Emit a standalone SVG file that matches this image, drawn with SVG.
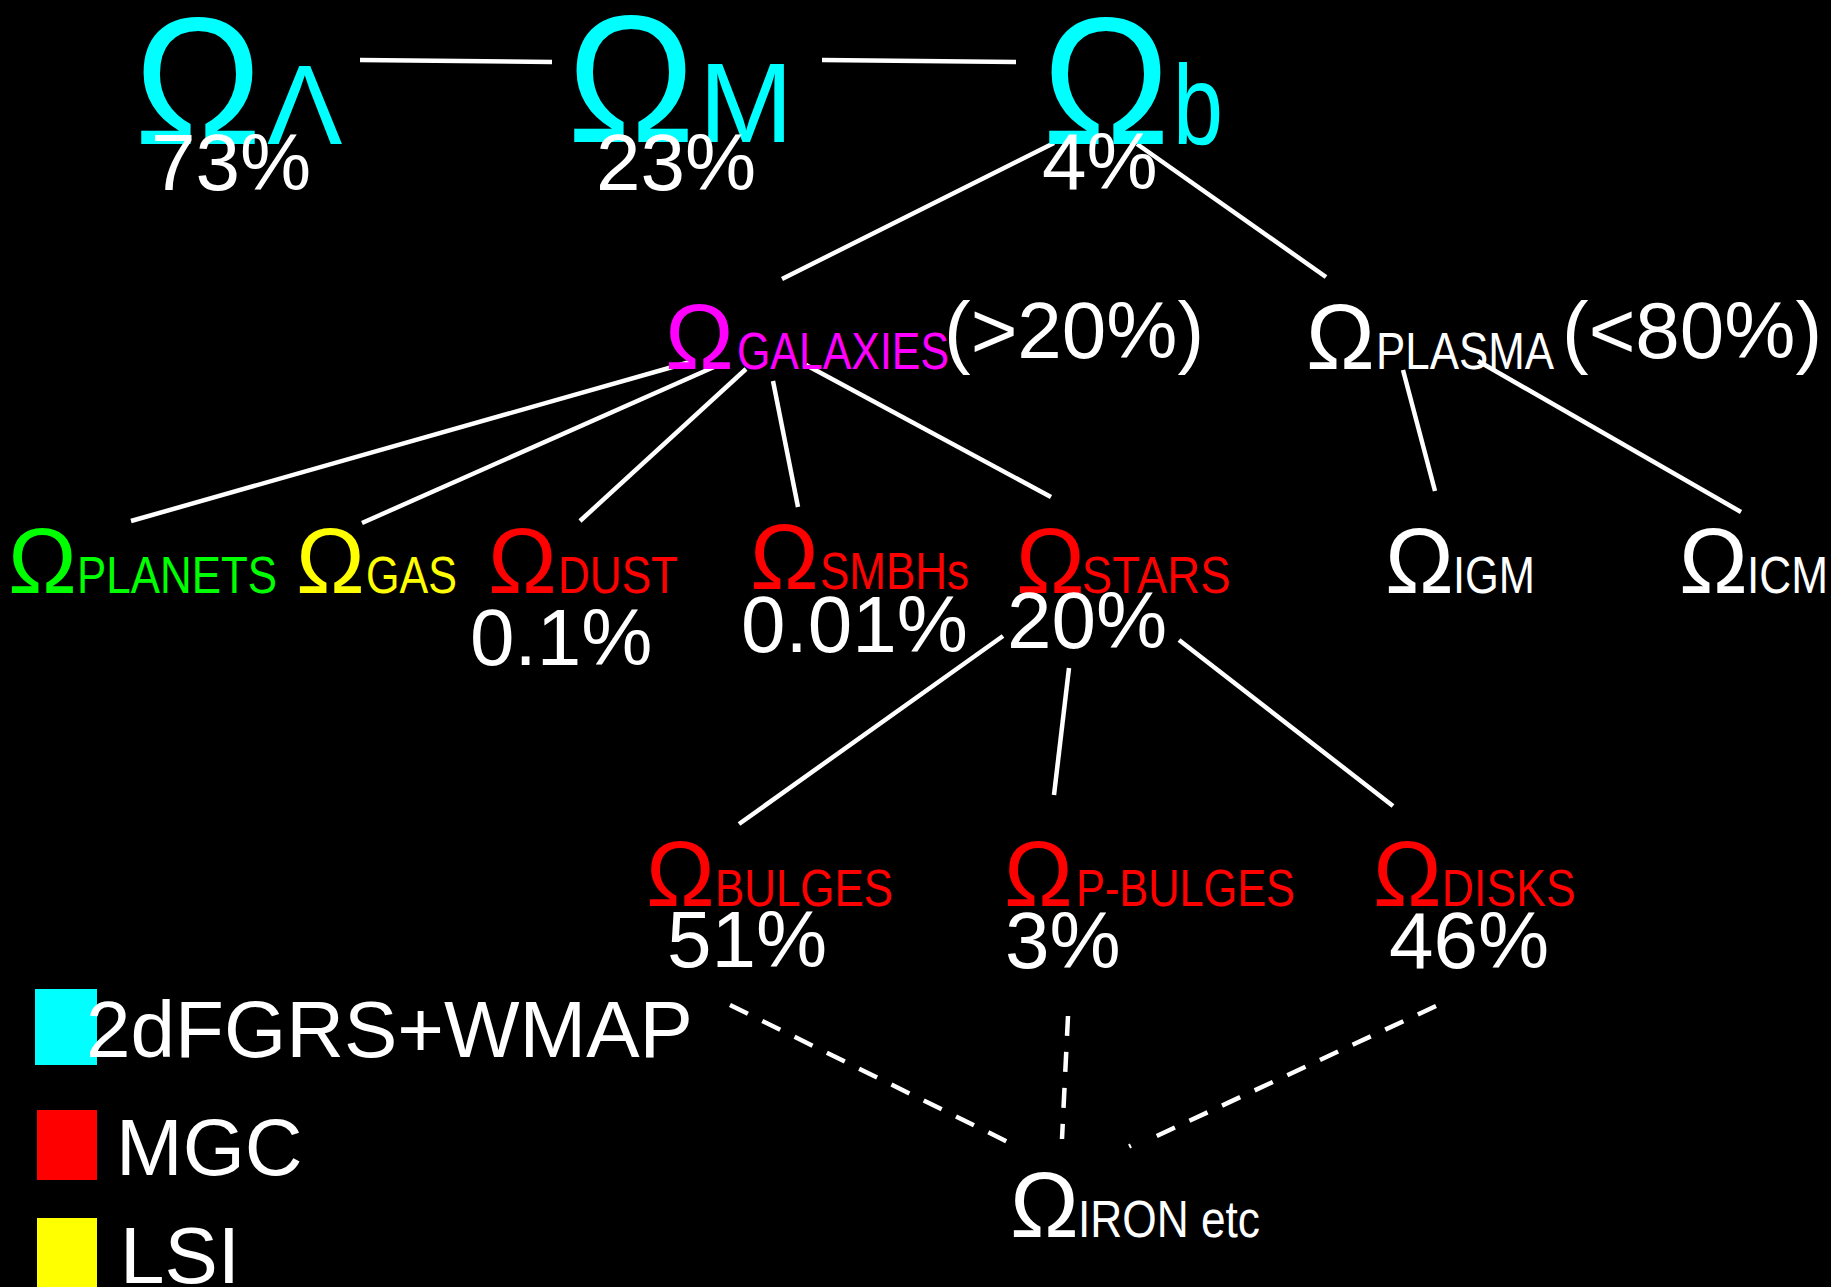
<svg xmlns="http://www.w3.org/2000/svg" width="1831" height="1287" viewBox="0 0 1831 1287">
  <style>
    text { font-family: "Liberation Sans", Arial, sans-serif; }
    .big { font-size: 181px; }
    .bsub { font-size: 113px; }
    .om { font-size: 92px; }
    .sub { font-size: 52px; }
    .pct { font-size: 80px; fill: #ffffff; }
    .cy { fill: #00ffff; }
    .mg { fill: #ff00ff; }
    .wh { fill: #ffffff; }
    .gr { fill: #00ff00; }
    .ye { fill: #ffff00; }
    .rd { fill: #ff0000; }
    .ln { stroke: #ffffff; stroke-width: 4.5; fill: none; }
    .dash { stroke-dasharray: 20 16; }
  </style>
  <rect width="1831" height="1287" fill="#000000"/>

  <!-- connectors -->
  <g id="connectors" class="ln">
    <line x1="360" y1="60" x2="552" y2="62"/>
    <line x1="822" y1="60" x2="1016" y2="62"/>
    <line x1="1054" y1="143" x2="782" y2="279"/>
    <line x1="1137" y1="144" x2="1326" y2="277"/>
    <line x1="690" y1="362" x2="131" y2="521"/>
    <line x1="714" y1="367" x2="362" y2="523"/>
    <line x1="746" y1="369" x2="580" y2="521"/>
    <line x1="773" y1="381" x2="798" y2="507"/>
    <line x1="806" y1="365" x2="1051" y2="497"/>
    <line x1="1403" y1="370" x2="1435" y2="491"/>
    <line x1="1478" y1="361" x2="1741" y2="512"/>
    <line x1="1003" y1="636" x2="739" y2="824"/>
    <line x1="1069" y1="668" x2="1054" y2="795"/>
    <line x1="1179" y1="640" x2="1393" y2="806"/>
    <line class="dash" x1="730" y1="1005" x2="1016" y2="1146"/>
    <line class="dash" x1="1068" y1="1016" x2="1062" y2="1139"/>
    <line class="dash" x1="1436" y1="1006" x2="1146" y2="1141"/>
    <line x1="1129" y1="1144" x2="1131" y2="1148" stroke-width="2"/>
  </g>

  <!-- cosmological densities -->
  <g id="omega-lambda">
    <text class="big cy" x="134" y="144" textLength="128" lengthAdjust="spacingAndGlyphs">Ω</text>
    <text class="bsub cy" x="267" y="144">Λ</text>
    <text class="pct" x="151" y="190">73%</text>
  </g>
  <g id="omega-m">
    <text class="big cy" x="567" y="142" textLength="128" lengthAdjust="spacingAndGlyphs">Ω</text>
    <text class="bsub cy" x="699" y="142">M</text>
    <text class="pct" x="596" y="190">23%</text>
  </g>
  <g id="omega-b">
    <text class="big cy" x="1042" y="144" textLength="128" lengthAdjust="spacingAndGlyphs">Ω</text>
    <text class="bsub cy" x="1173" y="144" font-size="108" textLength="50" lengthAdjust="spacingAndGlyphs">b</text>
    <text class="pct" x="1042" y="189">4%</text>
  </g>

  <!-- baryon split -->
  <g id="galaxies">
    <text class="om mg" x="665" y="369">Ω</text>
    <text class="sub mg" x="737" y="369" textLength="212" lengthAdjust="spacingAndGlyphs">GALAXIES</text>
    <text class="pct" x="944" y="358">(&gt;20%)</text>
  </g>
  <g id="plasma">
    <text class="om wh" x="1306" y="369">Ω</text>
    <text class="sub wh" x="1376" y="369" textLength="178" lengthAdjust="spacingAndGlyphs">PLASMA</text>
    <text class="pct" x="1562" y="358">(&lt;80%)</text>
  </g>

  <!-- galaxy components -->
  <g id="planets">
    <text class="om gr" x="8" y="593">Ω</text>
    <text class="sub gr" x="77" y="593" textLength="200" lengthAdjust="spacingAndGlyphs">PLANETS</text>
  </g>
  <g id="gas">
    <text class="om ye" x="296" y="593">Ω</text>
    <text class="sub ye" x="366" y="593" textLength="91" lengthAdjust="spacingAndGlyphs">GAS</text>
  </g>
  <g id="dust">
    <text class="om rd" x="488" y="593">Ω</text>
    <text class="sub rd" x="558" y="593" textLength="120" lengthAdjust="spacingAndGlyphs">DUST</text>
    <text class="pct" x="470" y="665">0.1%</text>
  </g>
  <g id="smbhs">
    <text class="om rd" x="750" y="589">Ω</text>
    <text class="sub rd" x="820" y="589" textLength="149" lengthAdjust="spacingAndGlyphs">SMBHs</text>
    <text class="pct" x="741" y="652">0.01%</text>
  </g>
  <g id="stars">
    <text class="om rd" x="1016" y="593">Ω</text>
    <text class="sub rd" x="1082" y="593" textLength="149" lengthAdjust="spacingAndGlyphs">STARS</text>
    <text class="pct" x="1007" y="648">20%</text>
  </g>
  <g id="igm">
    <text class="om wh" x="1385" y="593">Ω</text>
    <text class="sub wh" x="1453" y="593" textLength="82" lengthAdjust="spacingAndGlyphs">IGM</text>
  </g>
  <g id="icm">
    <text class="om wh" x="1679" y="593">Ω</text>
    <text class="sub wh" x="1747" y="593" textLength="81" lengthAdjust="spacingAndGlyphs">ICM</text>
  </g>

  <!-- stellar components -->
  <g id="bulges">
    <text class="om rd" x="646" y="906">Ω</text>
    <text class="sub rd" x="715" y="906" textLength="178" lengthAdjust="spacingAndGlyphs">BULGES</text>
    <text class="pct" x="667" y="967">51%</text>
  </g>
  <g id="p-bulges">
    <text class="om rd" x="1004" y="906">Ω</text>
    <text class="sub rd" x="1076" y="906" textLength="219" lengthAdjust="spacingAndGlyphs">P-BULGES</text>
    <text class="pct" x="1005" y="968">3%</text>
  </g>
  <g id="disks">
    <text class="om rd" x="1373" y="906">Ω</text>
    <text class="sub rd" x="1442" y="906" textLength="134" lengthAdjust="spacingAndGlyphs">DISKS</text>
    <text class="pct" x="1389" y="968">46%</text>
  </g>

  <g id="iron">
    <text class="om wh" x="1010" y="1237">Ω</text>
    <text class="sub wh" x="1078" y="1237" textLength="182" lengthAdjust="spacingAndGlyphs">IRON etc</text>
  </g>

  <!-- legend -->
  <g id="legend">
    <rect x="35" y="989" width="62" height="76" fill="#00ffff"/>
    <text class="pct" x="86" y="1057" font-size="82" textLength="607" lengthAdjust="spacingAndGlyphs">2dFGRS+WMAP</text>
    <rect x="37" y="1110" width="60" height="70" fill="#ff0000"/>
    <text class="pct" x="116" y="1175">MGC</text>
    <rect x="37" y="1218" width="60" height="69" fill="#ffff00"/>
    <text class="pct" x="120" y="1283">LSI</text>
  </g>
</svg>
